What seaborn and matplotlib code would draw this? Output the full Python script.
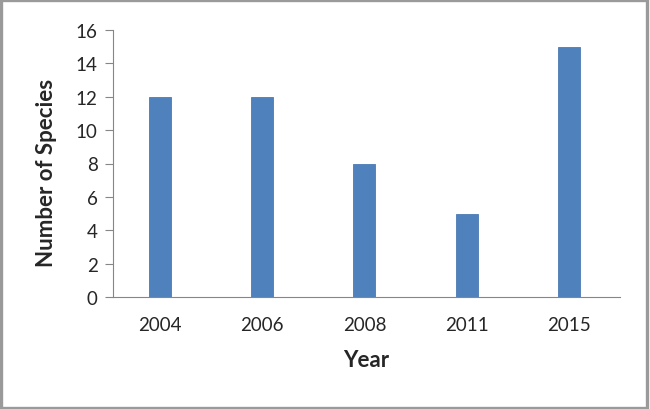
import matplotlib
matplotlib.use("Agg")
import matplotlib.pyplot as plt
import seaborn as sns
import pandas as pd
from matplotlib.patches import Rectangle

years = ["2004", "2006", "2008", "2011", "2015"]
species = [12, 12, 8, 5, 15]

df = pd.DataFrame({"Year": years, "Species": species})

sns.set_style("white")
plt.rcParams["font.family"] = ["Lato", "DejaVu Sans"]

fig = plt.figure(figsize=(6.5, 4.1), dpi=100)
ax = fig.add_axes([113 / 650, 1 - 298 / 410, 507 / 650, 267 / 410])

sns.barplot(data=df, x="Year", y="Species", color="#4F81BD", width=0.215,
            edgecolor="#4A7AB5", linewidth=0.6, saturation=1, ax=ax)

ax.set_ylim(0, 16)
ax.set_yticks(range(0, 17, 2))
ax.set_xlim(-0.46, 4.5)
ax.tick_params(axis="y", direction="out", length=6, width=0.8, color="#868686", labelsize=13.5, pad=5, left=True)
ax.tick_params(axis="x", length=0, labelsize=13.5, pad=14)
for s in ["top", "right"]:
    ax.spines[s].set_visible(False)
for s in ["left", "bottom"]:
    ax.spines[s].set_color("#868686")
    ax.spines[s].set_linewidth(0.8)

ax.set_xlabel("Year", fontsize=16, fontweight="bold", labelpad=11)
ax.set_ylabel("Number of Species", fontsize=16, fontweight="bold", labelpad=12)
ax.yaxis.set_label_coords(-0.11, 0.47)

# rahmen
fig.patches.append(Rectangle((0.002, 0.003), 0.994, 0.994, transform=fig.transFigure,
                             fill=False, edgecolor="#9a9a9a", linewidth=2.4))

fig.savefig("out.png", dpi=100)
